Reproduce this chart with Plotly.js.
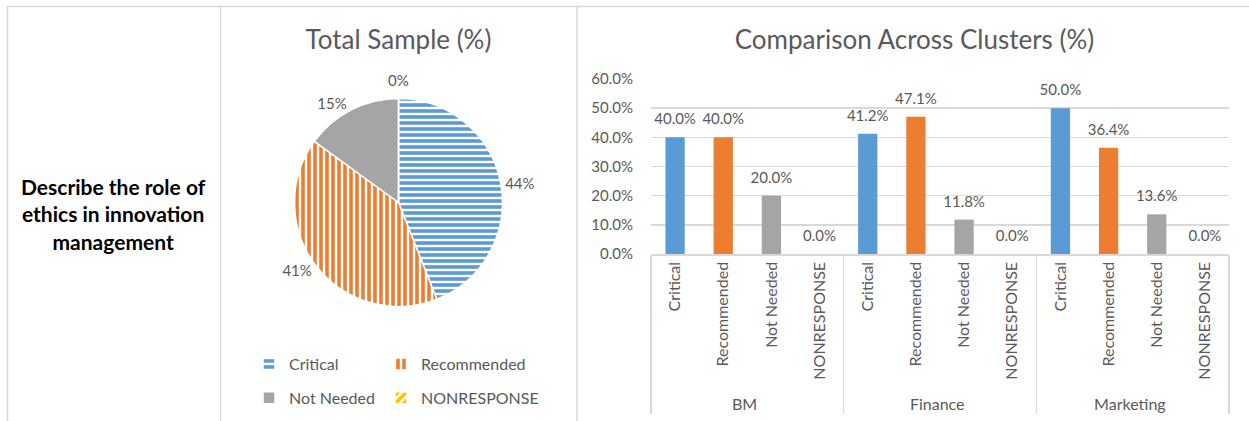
<!DOCTYPE html>
<html>
<head>
<meta charset="utf-8">
<script src="https://cdn.plot.ly/plotly-3.0.1.min.js"></script>
<style>
  html, body { margin: 0; padding: 0; background: #ffffff; }
  #wrap { position: relative; width: 1249px; height: 421px; }
  #bars, #pie { position: absolute; left: 0; top: 0; width: 1249px; height: 421px; }
</style>
</head>
<body>
<div id="wrap">
  <div id="bars"></div>
  <div id="pie"></div>
</div>
<script>
// Survey answers: role of ethics in innovation management
const responses = ['Critical', 'Recommended', 'Not Needed', 'NONRESPONSE'];
const clusters = ['BM', 'Finance', 'Marketing'];

// Share of respondents per answer (%), whole sample
const totalShares = [44, 41, 15, 0];

// Share of respondents per answer (%), by cluster
const bmValues = [40.0, 40.0, 20.0, 0.0];
const financeValues = [41.2, 47.1, 11.8, 0.0];
const marketingValues = [50.0, 36.4, 13.6, 0.0];

const yTicks = [0, 10, 20, 30, 40, 50, 60];

const answerColors = ['#5B9BD5', '#ED7D31', '#A5A5A5', '#FFC000'];
const FONT = 'Lato, "Liberation Sans", sans-serif';
const TEXT_GREY = '#595959';
const LINE_GREY = '#D9D9D9';
const W = 1249, H = 421;

// px helpers (margins are zero, so paper == page)
const px = v => v / W;
const py = v => 1 - v / H;

// ---- clustered bars on a two-level category axis ----
const clusterRows = [bmValues, financeValues, marketingValues];
const outer = [], inner = [], yVals = [], barColors = [];
clusterRows.forEach((row, gi) => {
  row.forEach((v, ri) => {
    outer.push(clusters[gi]);
    inner.push(responses[ri]);
    yVals.push(v);
    barColors.push(answerColors[ri]);
  });
});
const pct1 = v => v.toFixed(1) + '%';

const barTrace = {
  type: 'bar',
  x: [outer, inner],
  y: yVals,
  width: 0.4,
  marker: { color: barColors, line: { width: 0 } },
  showlegend: false,
  hoverinfo: 'x+y'
};

// value labels floating a little above each bar
const labelTrace = {
  type: 'scatter',
  mode: 'markers+text',
  x: [outer, inner],
  y: yVals,
  text: yVals.map(pct1),
  textposition: 'top center',
  textfont: { family: FONT, size: 15, color: TEXT_GREY },
  marker: { size: 13, opacity: 0 },
  cliponaxis: false,
  showlegend: false,
  hoverinfo: 'skip'
};

const frameLine = (x0, y0, x1, y1) => ({
  type: 'line', xref: 'paper', yref: 'paper',
  x0: x0, y0: y0, x1: x1, y1: y1,
  line: { color: LINE_GREY, width: 1.5 }
});

const nSlots = clusters.length * responses.length;

const barLayout = {
  width: W, height: H,
  margin: { l: 0, r: 0, t: 0, b: 0 },
  paper_bgcolor: '#ffffff',
  plot_bgcolor: '#ffffff',
  font: { family: FONT, color: TEXT_GREY },
  title: {
    text: 'Comparison Across Clusters (%)',
    x: px(914.5), y: py(40), xref: 'container', yref: 'container',
    xanchor: 'center', yanchor: 'middle',
    font: { family: FONT, size: 26, color: TEXT_GREY }
  },
  xaxis: {
    type: 'multicategory',
    domain: [px(651), px(1229)],
    range: [-0.5, nSlots - 0.5],
    showline: true, linecolor: LINE_GREY, linewidth: 1.5,
    showdividers: true, dividercolor: LINE_GREY, dividerwidth: 1.5,
    tickangle: -90,
    ticks: '',
    tickfont: { family: FONT, size: 16, color: TEXT_GREY },
    showgrid: false
  },
  yaxis: {
    domain: [py(254), py(79)],
    range: [0, 60],
    tickvals: yTicks,
    ticktext: yTicks.map(pct1),
    ticklabelstandoff: 17,
    gridcolor: LINE_GREY, gridwidth: 1.5,
    zeroline: false,
    showline: false,
    ticks: '',
    tickfont: { family: FONT, size: 15, color: TEXT_GREY }
  },
  shapes: [
    frameLine(px(7), py(6.5), 1, py(6.5)),
    frameLine(px(7.5), 0, px(7.5), py(6.5)),
    frameLine(px(220.5), 0, px(220.5), py(6.5)),
    frameLine(px(577), 0, px(577), py(6.5))
  ],
  annotations: [{
    xref: 'paper', yref: 'paper',
    x: px(113), y: py(214),
    xanchor: 'center', yanchor: 'middle',
    showarrow: false, align: 'center',
    text: 'Describe the role of<br>ethics in innovation<br>management',
    font: { family: FONT, size: 21, color: '#000000', weight: 'bold' }
  }]
};

Plotly.newPlot('bars', [barTrace, labelTrace], barLayout, { displayModeBar: false, staticPlot: true });

// ---- pie of the whole sample, with its own two-column legend ----
const pieL = 249, pieW = 301;
const pieTrace = {
  type: 'pie',
  labels: responses,
  values: totalShares,
  sort: false,
  direction: 'clockwise',
  rotation: 0,
  text: totalShares.map(v => (v > 0 ? v + '%' : '')),
  textinfo: 'text',
  textposition: 'outside',
  outsidetextfont: { family: FONT, size: 15, color: TEXT_GREY },
  domain: {
    x: [(294.5 - pieL) / pieW, (502.5 - pieL) / pieW],
    y: [py(306.5), py(98.5)]
  },
  marker: {
    colors: answerColors,
    line: { color: '#ffffff', width: 1.5 },
    pattern: {
      shape: ['-', '|', '', '/'],
      fgcolor: answerColors,
      bgcolor: '#ffffff',
      fillmode: 'replace',
      size: 6,
      solidity: 0.6
    }
  },
  hoverinfo: 'label+percent'
};

// the empty slice sits at 12 o'clock; its label goes straight above the pie
const zeroIdx = totalShares.indexOf(0);

const pieLayout = {
  width: W, height: H,
  margin: { l: pieL, r: W - pieL - pieW, t: 0, b: 0 },
  paper_bgcolor: 'rgba(0,0,0,0)',
  plot_bgcolor: 'rgba(0,0,0,0)',
  font: { family: FONT, color: TEXT_GREY },
  title: {
    text: 'Total Sample (%)',
    x: px(398.5), y: py(40), xref: 'container', yref: 'container',
    xanchor: 'center', yanchor: 'middle',
    font: { family: FONT, size: 26, color: TEXT_GREY }
  },
  annotations: zeroIdx < 0 ? [] : [{
    xref: 'paper', yref: 'paper',
    x: (398.5 - pieL) / pieW, y: py(80),
    xanchor: 'center', yanchor: 'middle',
    showarrow: false,
    text: totalShares[zeroIdx] + '%',
    font: { family: FONT, size: 15, color: TEXT_GREY }
  }],
  showlegend: true,
  legend: {
    orientation: 'h',
    x: 0, xanchor: 'left',
    y: py(347), yanchor: 'top',
    entrywidth: 87,
    font: { family: FONT, size: 16, color: TEXT_GREY },
    bgcolor: 'rgba(0,0,0,0)',
    borderwidth: 0
  }
};

Plotly.newPlot('pie', [pieTrace], pieLayout, { displayModeBar: false, staticPlot: true })
  .then(gd => {
    // let the right-hand legend column run past the legend box, and open up the row spacing
    gd.querySelectorAll('.legend [clip-path]').forEach(el => el.removeAttribute('clip-path'));
    const re = /translate\(\s*([-\d.]+)[ ,]+([-\d.]+)\s*\)/;
    const items = Array.from(gd.querySelectorAll('.legend .traces')).map(el => {
      const m = re.exec(el.getAttribute('transform') || '');
      return m ? { el: el, tx: parseFloat(m[1]), ty: parseFloat(m[2]) } : null;
    }).filter(Boolean);
    if (!items.length) return;
    const firstRow = Math.min.apply(null, items.map(it => it.ty));
    items.forEach(it => {
      if (it.ty > firstRow + 1) {
        it.el.setAttribute('transform', 'translate(' + it.tx + ',' + (it.ty + 10) + ')');
      }
    });
  });
</script>
</body>
</html>
